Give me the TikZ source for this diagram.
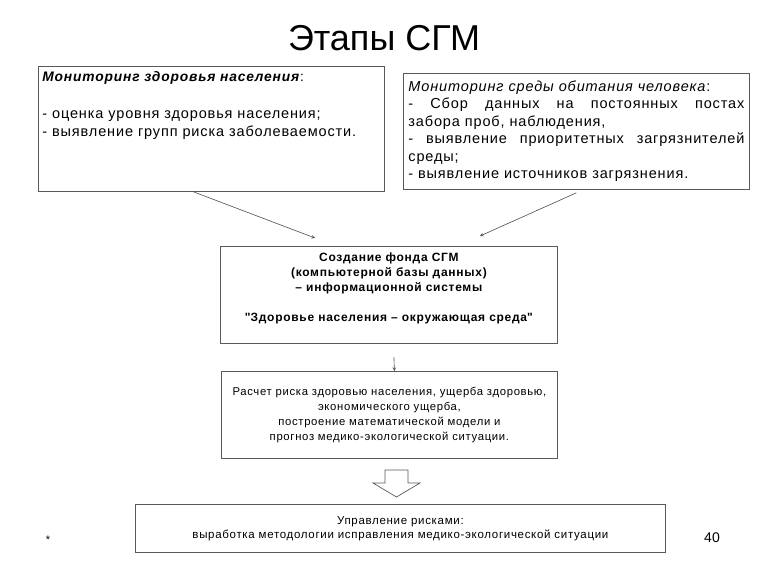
\documentclass[tikz,border=0pt]{standalone}
\usepackage{fontspec}
\setmainfont{Liberation Sans}[LetterSpace=6]
\newfontfamily\titlefont{Liberation Sans}

\begin{document}
\begin{tikzpicture}[
   x=1pt,y=-1pt,
   >=stealth,
   line width=0.8pt,
   box/.style={
      draw=black!65,
      inner sep=5pt
   },
   link/.style={
      ->,
      draw=black!70,
      line width=0.6pt
   }
]

   \useasboundingbox (0,0) rectangle (768,576);

   % Title
   \node (title) at (384,38) {\titlefont\fontsize{36}{40}\selectfont Этапы СГМ};

   % Health monitoring
   \node[
      box,
      minimum width=346pt,
      minimum height=125pt,
      anchor=north west
   ] (health) at (38,66) {};

   \node[
      anchor=north west,
      align=left,
      inner sep=0pt,
      font=\fontsize{14.5}{18.5}\selectfont
   ] (healthtxt) at (42,71)
   {
      {\fontsize{13.8}{18.5}\selectfont\textbf{\textit{Мониторинг здоровья населения}}:}\\
      \\
      - оценка уровня здоровья населения;\\
      - выявление групп риска заболеваемости.
   };

   % Environment monitoring
   \node[
      box,
      text width=336pt,
      minimum height=116pt,
      align=justify,
      anchor=north west,
      font=\fontsize{14.5}{17.5}\selectfont
   ] (environ) at (403,73)
   {
      \textit{Мониторинг среды обитания человека}:\\
      - Сбор данных на постоянных постах\linebreak
      забора проб, наблюдения,\\
      - выявление приоритетных загрязнителей\linebreak
      среды;\\
      - выявление источников загрязнения.
   };

   % Data fund
   \node[
      box,
      minimum width=337pt,
      minimum height=97pt,
      align=center,
      anchor=north west,
      font=\bfseries\fontsize{12}{15}\selectfont
   ] (fund) at (220,246)
   {
      Создание фонда СГМ\\
      (компьютерной базы данных)\\
      – информационной системы\\
      \\
      \textquotedbl Здоровье населения – окружающая среда\textquotedbl\\
      ~
   };

   % Risk estimate
   \node[
      box,
      minimum width=336pt,
      minimum height=87pt,
      align=center,
      anchor=north west,
      font=\fontsize{11.3}{15}\selectfont
   ] (risk) at (221,371)
   {
      Расчет риска здоровью населения, ущерба здоровью,\\
      экономического ущерба,\\
      построение математической модели и\\
      прогноз медико-экологической ситуации.
   };

   % Risk management
   \node[
      box,
      minimum width=530pt,
      minimum height=48pt,
      align=center,
      anchor=north west,
      font=\fontsize{11.5}{14}\selectfont
   ] (manage) at (135,504)
   {
      Управление рисками:\\
      выработка методологии исправления медико-экологической ситуации
   };

   % Arrows into the fund
   \coordinate (fundin1) at (315,238);
   \coordinate (fundin2) at (480,236);

   \draw[link] ([xshift=-18pt]health.south) -- (fundin1);
   \draw[link] ([yshift=-3pt]environ.south) -- (fundin2);

   % Fund to risk
   \draw[link] ([yshift=-13pt,xshift=5pt]fund.south) -- ([xshift=5pt]risk.north);

   % Hollow arrow to management
   \draw[black!65,line width=0.7pt]
      (385,470) -- (408,470) -- (408,483) -- (420,483)
      -- (396.5,497) -- (373,483) -- (385,483) -- cycle;

   % Footer
   \node (star) at (48,540) {\fontsize{11}{12}\selectfont *};
   \node (page) at (712,538) {\titlefont\fontsize{14}{16}\selectfont 40};

\end{tikzpicture}
\end{document}
